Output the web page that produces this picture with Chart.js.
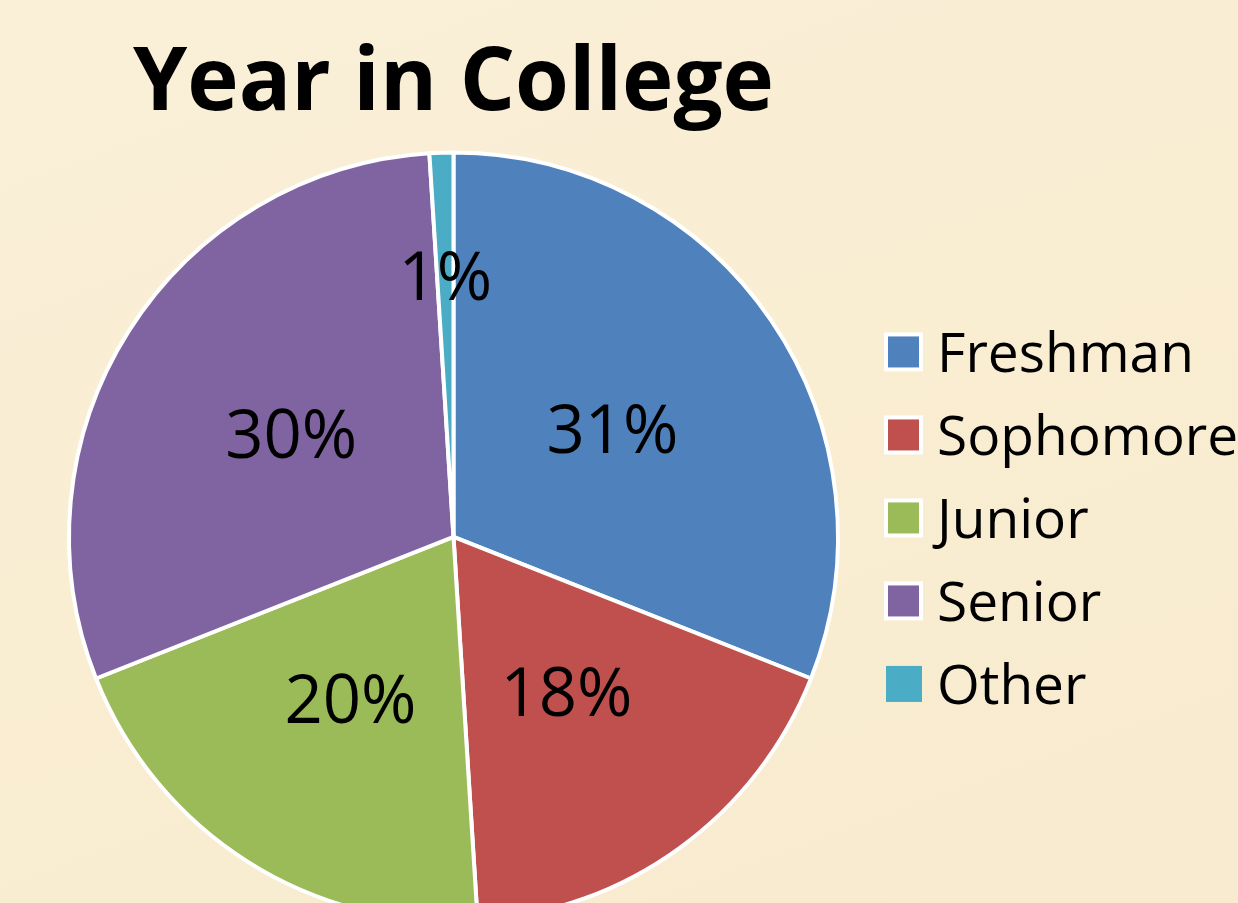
<!DOCTYPE html>
<html>
<head>
<meta charset="utf-8">
<script src="https://cdn.jsdelivr.net/npm/chart.js@4/dist/chart.umd.min.js"></script>
<style>
  html, body { margin: 0; padding: 0; overflow: hidden; }
  body {
    width: 1238px; height: 903px;
    background: linear-gradient(160deg, #FAF0D8 0%, #F9EDD2 50%, #F8EBCF 100%);
  }
  #wrap { position: absolute; left: 0; top: 0; width: 1238px; height: 940px; }
</style>
</head>
<body>
<div id="wrap"><canvas id="c"></canvas></div>
<script>
// ---- data ----
const titleText = "Year in College";
const categories = ["Freshman", "Sophomore", "Junior", "Senior", "Other"];
const percentValues = [31, 18, 20, 30, 1];
const sliceColors = ["#4F81BD", "#C0504D", "#9BBB59", "#8064A2", "#4BACC6"];

const FONT = "'Open Sans', 'Noto Sans', 'DejaVu Sans', sans-serif";

// percentage labels inside slices
const sliceLabels = {
  id: 'sliceLabels',
  afterDatasetsDraw(chart) {
    const ctx = chart.ctx;
    const meta = chart.getDatasetMeta(0);
    const data = chart.data.datasets[0].data;
    const size = 67;
    ctx.save();
    ctx.font = `400 ${size}px ${FONT}`;
    ctx.fillStyle = '#000';
    ctx.textAlign = 'center';
    ctx.textBaseline = 'alphabetic';
    meta.data.forEach((arc, i) => {
      const p = arc.getProps(['x', 'y', 'startAngle', 'endAngle', 'outerRadius'], true);
      const mid = (p.startAngle + p.endAngle) / 2;
      const r = p.outerRadius * (data[i] < 5 ? 0.68 : 0.5);
      const x = p.x + Math.cos(mid) * r;
      const y = p.y + Math.sin(mid) * r;
      ctx.fillText(data[i] + '%', x, y + size * 0.357);
    });
    ctx.restore();
  }
};

// legend on the right
const sideLegend = {
  id: 'sideLegend',
  afterDraw(chart) {
    const ctx = chart.ctx;
    const area = chart.chartArea;
    const cy = (area.top + area.bottom) / 2;
    const labels = chart.data.labels;
    const colors = chart.data.datasets[0].backgroundColor;
    const step = 83;
    const startY = cy - 19 - step * (labels.length - 1) / 2;
    const boxX = area.right + 46;
    const textX = boxX + 51;
    const size = 55;
    ctx.save();
    ctx.font = `400 ${size}px ${FONT}`;
    ctx.textAlign = 'left';
    ctx.textBaseline = 'alphabetic';
    labels.forEach((lab, i) => {
      const y = startY + i * step;
      if (i < labels.length - 1) {
        ctx.fillStyle = '#FFFFFF';
        ctx.fillRect(boxX - 2, y - 19.5, 39, 39);
        ctx.fillStyle = colors[i];
        ctx.fillRect(boxX + 2, y - 15.5, 31, 31);
      } else {
        ctx.fillStyle = colors[i];
        ctx.fillRect(boxX, y - 18, 36, 36);
      }
      ctx.fillStyle = '#000';
      ctx.fillText(lab, textX, y + size * 0.357);
    });
    ctx.restore();
  }
};

new Chart(document.getElementById('c'), {
  type: 'pie',
  data: {
    labels: categories,
    datasets: [{
      data: percentValues,
      backgroundColor: sliceColors,
      borderColor: '#FFFFFF',
      borderWidth: 4,
      clip: false
    }]
  },
  options: {
    responsive: true,
    maintainAspectRatio: false,
    animation: false,
    layout: { padding: { left: 67, right: 398, top: 0, bottom: 16.5 } },
    plugins: {
      legend: { display: false },
      tooltip: { enabled: false },
      title: {
        display: true,
        text: titleText,
        color: '#000000',
        font: { family: FONT, size: 87, weight: 'bold', lineHeight: 1.2 },
        padding: { top: 33, bottom: 13 }
      }
    }
  },
  plugins: [sliceLabels, sideLegend]
});
</script>
</body>
</html>
